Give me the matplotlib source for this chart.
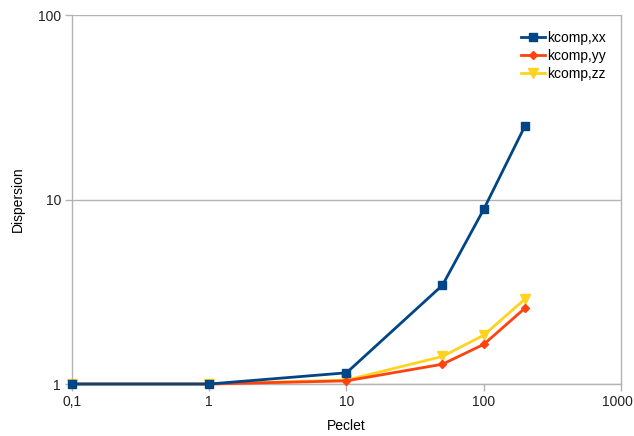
import matplotlib.pyplot as plt
import matplotlib.transforms as mtransforms
from matplotlib.ticker import FixedLocator, FixedFormatter, NullLocator

plt.rcParams['font.family'] = ['Liberation Sans', 'DejaVu Sans']

peclet = [0.1, 1, 10, 50, 100, 200]
kxx = [1.0, 1.0, 1.15, 3.43, 8.85, 25.1]
kyy = [1.0, 1.0, 1.04, 1.28, 1.64, 2.58]
kzz = [1.0, 1.0, 1.05, 1.41, 1.84, 2.89]

x_ticks = [0.1, 1, 10, 100, 1000]
x_labels = ["0,1", "1", "10", "100", "1000"]
y_ticks = [1, 10, 100]
y_labels = ["1", "10", "100"]

fig = plt.figure(figsize=(6.34, 4.36), dpi=100)
ax = fig.add_axes([72/634, 1 - 384/436, (621 - 72)/634, (384 - 15)/436])

grey = "#b3b3b3"
ax.plot(peclet, kxx, color="#004586", lw=2, marker="s", ms=6, label="kcomp,xx", zorder=5, clip_on=False)
ax.plot(peclet, kyy, color="#ff420e", lw=2, marker="D", ms=4.5, label="kcomp,yy", zorder=3, clip_on=False)
ax.plot(peclet, kzz, color="#ffd320", lw=2, marker="v", ms=6.5, label="kcomp,zz", zorder=2, clip_on=False)

ax.set_xscale("log")
ax.set_yscale("log")
ax.set_xlim(0.1, 1000)
ax.set_ylim(1, 100)

ax.xaxis.set_major_locator(FixedLocator(x_ticks))
ax.xaxis.set_major_formatter(FixedFormatter(x_labels))
ax.xaxis.set_minor_locator(NullLocator())
ax.yaxis.set_major_locator(FixedLocator(y_ticks))
ax.yaxis.set_major_formatter(FixedFormatter(y_labels))
ax.yaxis.set_minor_locator(NullLocator())

ax.grid(axis="y", color=grey, lw=1)
ax.set_axisbelow(True)
ax.spines["top"].set_visible(False)
for side in ["left", "bottom", "right"]:
    ax.spines[side].set_color(grey)
    ax.spines[side].set_linewidth(1)
ax.tick_params(axis="both", color=grey, length=5, width=1, labelsize=10, labelcolor="#222222", pad=3)

# nudge the last x label so it stays inside the picture
last = ax.get_xticklabels()[-1]
last.set_transform(last.get_transform() + mtransforms.ScaledTranslation(-4/100, 0, fig.dpi_scale_trans))

ax.set_xlabel("Peclet", fontsize=10, labelpad=7)
ax.set_ylabel("Dispersion", fontsize=10, labelpad=9)

ax.legend(loc="upper left", bbox_to_anchor=((521 - 72)/549, 1 - (31 - 15)/369),
          frameon=False, fontsize=10, handlelength=1.7, handletextpad=0.2,
          labelspacing=0.3, borderpad=0, borderaxespad=0)

fig.savefig("out.png", dpi=100)
